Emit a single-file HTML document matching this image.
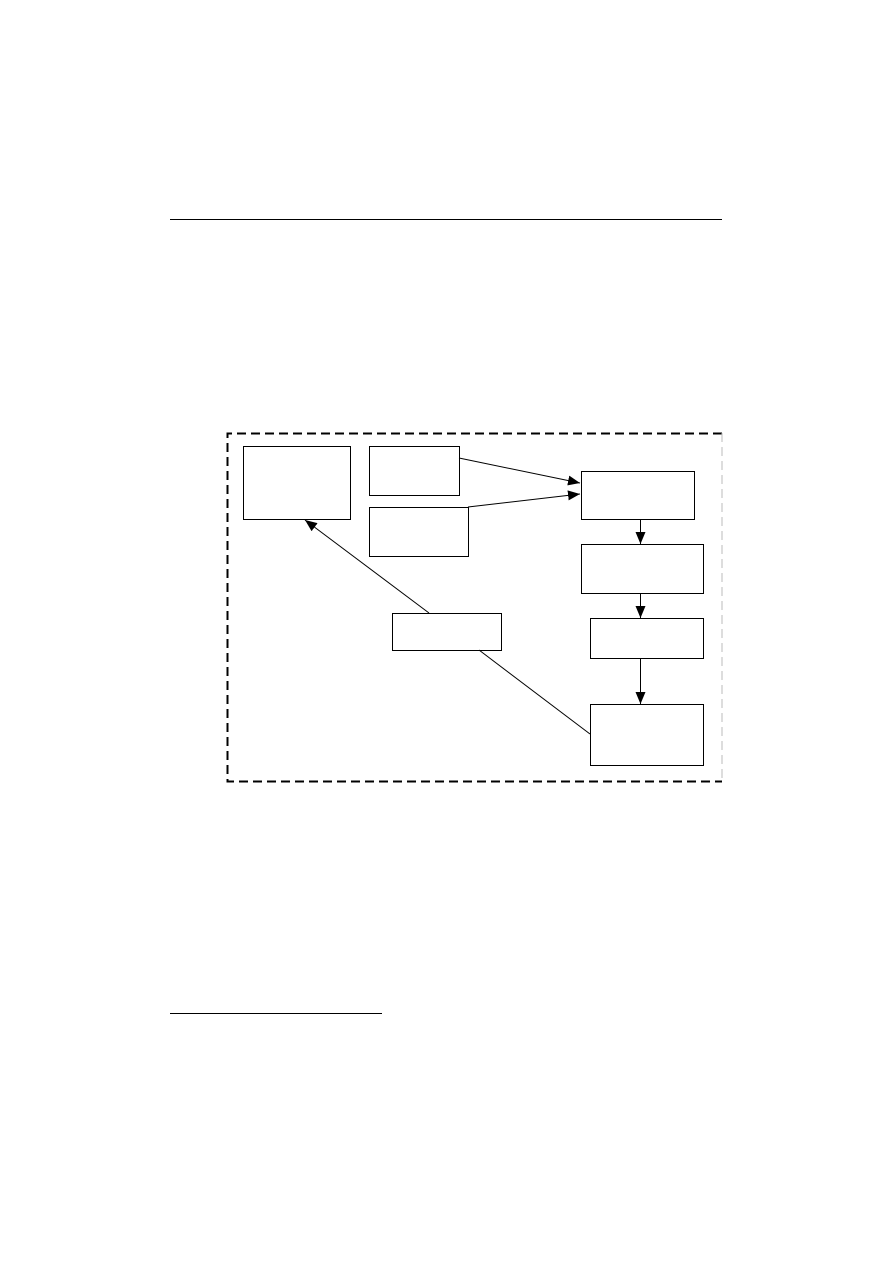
<!DOCTYPE html>
<html><head><meta charset="utf-8"><style>
html,body{margin:0;padding:0;background:#fff;}
svg{display:block;}
</style></head><body>
<svg width="893" height="1263" viewBox="0 0 893 1263" xmlns="http://www.w3.org/2000/svg">
<defs>
<marker id="a" markerWidth="12" markerHeight="10" refX="12" refY="5" orient="auto" markerUnits="userSpaceOnUse">
<path d="M0,0 L12,5 L0,10 z" fill="#000"/></marker>
</defs>
<line x1="170" y1="219.5" x2="722" y2="219.5" stroke="#000" stroke-width="1"/>
<line x1="170" y1="1013.5" x2="382" y2="1013.5" stroke="#000" stroke-width="1"/>
<path d="M722,433.5 L227.5,433.5 L227.5,781.5 L722,781.5" fill="none" stroke="#000" stroke-width="2" stroke-dasharray="9,5"/>
<line x1="722" y1="433" x2="722" y2="782" stroke="#bbb" stroke-width="1" stroke-dasharray="9,5"/>
<g fill="#fff" stroke="#000" stroke-width="1">
<rect x="243.5" y="446.5" width="107" height="73"/>
<rect x="369.5" y="446.5" width="90" height="49"/>
<rect x="369.5" y="507.5" width="99" height="49"/>
<rect x="581.5" y="471.5" width="113" height="48"/>
<rect x="581.5" y="544.5" width="122" height="49"/>
<rect x="590.5" y="618.5" width="113" height="40"/>
<rect x="590.5" y="704.5" width="113" height="61"/>
<rect x="392.5" y="613.5" width="109" height="37"/>
</g>
<g stroke="#000" stroke-width="1" fill="none">
<line x1="459" y1="458" x2="580" y2="483" marker-end="url(#a)"/>
<line x1="468" y1="507" x2="580" y2="494" marker-end="url(#a)"/>
<line x1="640.5" y1="519" x2="640.5" y2="544" marker-end="url(#a)"/>
<line x1="640.5" y1="593" x2="640.5" y2="618" marker-end="url(#a)"/>
<line x1="640.5" y1="658" x2="640.5" y2="704" marker-end="url(#a)"/>
<line x1="429" y1="613" x2="305" y2="520" marker-end="url(#a)"/>
<line x1="479" y1="650" x2="590" y2="734"/>
</g>
</svg>
</body></html>
